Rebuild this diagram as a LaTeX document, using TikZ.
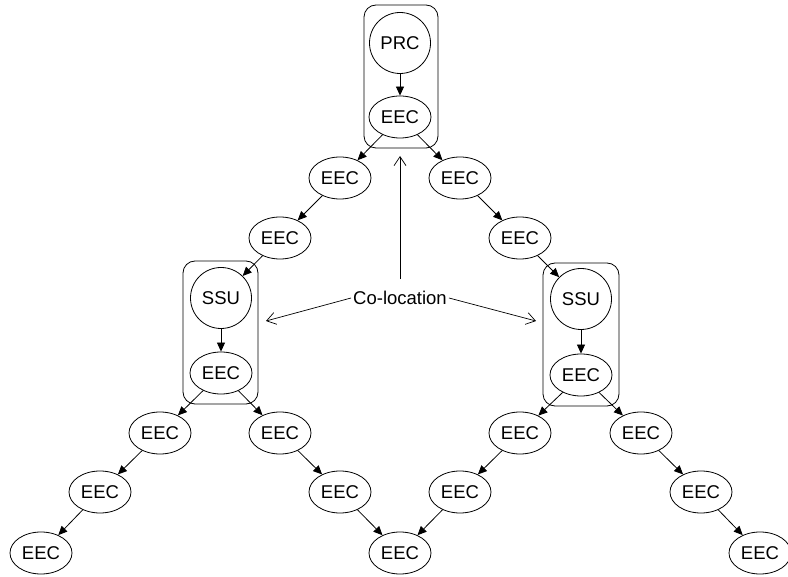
\documentclass[tikz,border=0pt]{standalone}
\usepackage{fontspec}
\setmainfont{Liberation Sans}
\usetikzlibrary{arrows.meta,shapes.geometric}
\begin{document}
\begin{tikzpicture}[x=1pt,y=-1pt,
  every node/.style={font=\fontsize{18.5}{22}\selectfont},
  eec/.style={draw,ellipse,minimum width=62pt,minimum height=42pt,inner sep=0pt,line width=0.8pt},
  unit/.style={draw,circle,minimum size=61pt,inner sep=0pt,line width=0.8pt},
  groupbox/.style={draw,rectangle,rounded corners=12pt,line width=0.8pt,inner sep=0pt},
  edge/.style={-{Triangle[length=9pt,width=8pt]},line width=0.8pt},
  colarrow/.style={-{Straight Barb[length=9pt,width=12pt]},line width=0.7pt}]
\useasboundingbox (0,0) rectangle (788,577);
% group boxes
\node[groupbox,minimum width=74pt,minimum height=143pt] (gT) at (401,76.5) {};
\node[groupbox,minimum width=75pt,minimum height=143pt] (gL) at (220.5,332.5) {};
\node[groupbox,minimum width=76pt,minimum height=143pt] (gR) at (581,334.5) {};
% nodes
\node[unit] (prc) at (400,43) {PRC};
\node[eec] (e0) at (400,117) {EEC};
\node[eec] (l1) at (340,178) {EEC};
\node[eec] (l2) at (280,238) {EEC};
\node[unit] (ssuL) at (221,298) {SSU};
\node[eec] (eL) at (221,373) {EEC};
\node[eec] (r1) at (460,178) {EEC};
\node[eec] (r2) at (520,238) {EEC};
\node[unit] (ssuR) at (581,299) {SSU};
\node[eec] (eR) at (581,375) {EEC};
\node[eec] (ll1) at (160,433) {EEC};
\node[eec] (ll2) at (100,492) {EEC};
\node[eec] (ll3) at (41,553) {EEC};
\node[eec] (lr1) at (280,433) {EEC};
\node[eec] (lr2) at (340,492) {EEC};
\node[eec] (mid) at (400,553) {EEC};
\node[eec] (rl1) at (520,433) {EEC};
\node[eec] (rl2) at (460,492) {EEC};
\node[eec] (rr1) at (641,433) {EEC};
\node[eec] (rr2) at (701,492) {EEC};
\node[eec] (rr3) at (760,553) {EEC};
% edges
\draw[edge] (prc) -- (e0);
\draw[edge] (e0) -- (l1);
\draw[edge] (l1) -- (l2);
\draw[edge] (l2) -- (ssuL);
\draw[edge] (ssuL) -- (eL);
\draw[edge] (e0) -- (r1);
\draw[edge] (r1) -- (r2);
\draw[edge] (r2) -- (ssuR);
\draw[edge] (ssuR) -- (eR);
\draw[edge] (eL) -- (ll1);
\draw[edge] (ll1) -- (ll2);
\draw[edge] (ll2) -- (ll3);
\draw[edge] (eL) -- (lr1);
\draw[edge] (lr1) -- (lr2);
\draw[edge] (lr2) -- (mid);
\draw[edge] (eR) -- (rl1);
\draw[edge] (rl1) -- (rl2);
\draw[edge] (rl2) -- (mid);
\draw[edge] (eR) -- (rr1);
\draw[edge] (rr1) -- (rr2);
\draw[edge] (rr2) -- (rr3);
% co-location
\node[inner sep=2pt] (co) at (400,298) {Co-location};
\coordinate (cUp) at (400,156);
\coordinate (cL) at (266,321);
\coordinate (cR) at (536,321);
\draw[colarrow,shorten <=10pt] (co) -- (cUp);
\draw[colarrow] (co.west) -- (cL);
\draw[colarrow] (co.east) -- (cR);
\end{tikzpicture}
\end{document}
